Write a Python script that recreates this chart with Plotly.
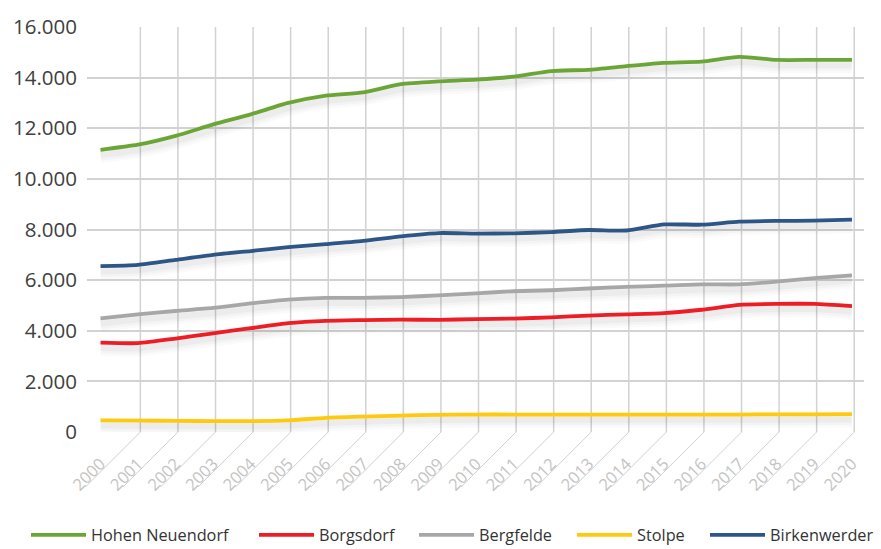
import plotly.graph_objects as go

years = list(range(2000, 2021))

hohen_neuendorf = [11150, 11350, 11700, 12150, 12550, 13000, 13290, 13420, 13740, 13850, 13920,
                   14040, 14260, 14310, 14450, 14580, 14630, 14820, 14700, 14700, 14700]
borgsdorf = [3530, 3510, 3690, 3900, 4100, 4300, 4390, 4420, 4440, 4430, 4460,
             4480, 4530, 4600, 4650, 4700, 4830, 5020, 5060, 5060, 4970]
bergfelde = [4490, 4650, 4780, 4900, 5080, 5230, 5300, 5300, 5330, 5400, 5480,
             5560, 5600, 5670, 5730, 5780, 5830, 5830, 5940, 6080, 6190]
stolpe = [460, 450, 440, 430, 430, 460, 560, 610, 650, 680, 690,
          690, 690, 690, 690, 690, 690, 690, 695, 700, 705]
birkenwerder = [6550, 6600, 6800, 7000, 7150, 7300, 7420, 7550, 7730, 7860, 7840,
                7850, 7900, 7980, 7960, 8200, 8190, 8310, 8340, 8350, 8390]

series_names = ["Hohen Neuendorf", "Borgsdorf", "Bergfelde", "Stolpe", "Birkenwerder"]
series_values = [hohen_neuendorf, borgsdorf, bergfelde, stolpe, birkenwerder]
series_colors = ["#6BA536", "#EE1C25", "#A7A7A9", "#FFC90E", "#2D5585"]

y_ticks = [0, 2000, 4000, 6000, 8000, 10000, 12000, 14000, 16000]

# left edge (px) of each legend entry's line sample
legend_px = [26, 254, 414, 572, 705]

X_RANGE = [1999.64, 2020.32]

fig = go.Figure()

# soft drop shadows under the lines
shadow_offset = 210
for vals in series_values:
    shifted = [v - shadow_offset for v in vals]
    for w, a in [(16, 0.018), (11, 0.025), (6, 0.03)]:
        fig.add_trace(go.Scatter(x=years, y=shifted, mode="lines",
                                 line=dict(color=f"rgba(0,0,0,{a})", width=w, shape="spline", smoothing=0.6),
                                 showlegend=False, hoverinfo="skip"))

legend_ids = ["legend", "legend2", "legend3", "legend4", "legend5"]
for name, vals, col, lid in zip(series_names, series_values, series_colors, legend_ids):
    fig.add_trace(go.Scatter(x=years, y=vals, mode="lines", name=name, legend=lid,
                             line=dict(color=col, width=3.8, shape="spline", smoothing=0.6)))

grid_col = "#D2D2D2"
shapes = []
for yr in years[1:]:
    gx = yr + 0.06
    shapes.append(dict(type="line", xref="x", yref="y", x0=gx, x1=gx, y0=0, y1=16000,
                       line=dict(color=grid_col, width=1.5), layer="below"))
    fx = (gx - X_RANGE[0]) / (X_RANGE[1] - X_RANGE[0])
    shapes.append(dict(type="line", xref="x domain", yref="y domain",
                       xsizemode="pixel", ysizemode="pixel",
                       xanchor=fx, yanchor=0, x0=0, x1=-55, y0=0, y1=-55,
                       line=dict(color="#D0D0D0", width=1), layer="below"))

layout_legends = {}
for lid, px in zip(legend_ids, legend_px):
    layout_legends[lid] = dict(orientation="h", xref="container", yref="container",
                               x=px / 881, y=0.025, xanchor="left", yanchor="middle",
                               font=dict(size=16.3, color="#333333"), itemwidth=55,
                               bgcolor="rgba(0,0,0,0)")

fig.update_layout(
    width=881, height=549,
    margin=dict(l=87, r=17, t=18, b=117),
    paper_bgcolor="white", plot_bgcolor="white",
    separators=",.",
    font=dict(family="Open Sans", color="#404040"),
    shapes=shapes,
    showlegend=True,
    xaxis=dict(range=X_RANGE, tickvals=years, ticktext=[str(y) for y in years],
               tickangle=-45, showgrid=False, zeroline=False, showline=False, ticks="",
               tickfont=dict(size=16.5, color="#C4C4C4"), ticklabelstandoff=18),
    yaxis=dict(range=[0, 16000], tickvals=y_ticks, tickformat=",d", showgrid=True,
               gridcolor=grid_col, gridwidth=1.5, zeroline=False, showline=False, ticks="",
               tickfont=dict(size=20.5, color="#404040"), ticklabelstandoff=9),
    **layout_legends,
)

fig.write_html("out.html")
